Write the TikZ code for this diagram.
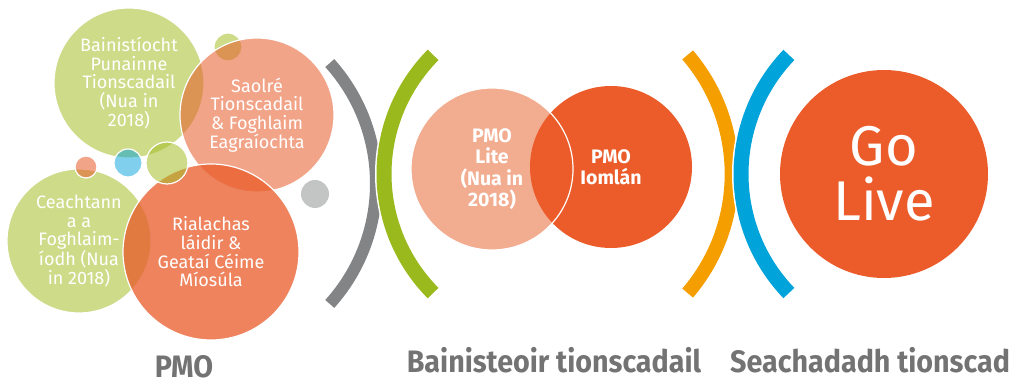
\documentclass[tikz,border=0pt]{standalone}
\usepackage{fontspec}
\setmainfont{Fira Sans}
\newfontfamily\labfont[FakeStretch=0.925]{Fira Sans}
\definecolor{cgreen}{RGB}{165,190,40}
\definecolor{csalmon}{RGB}{232,90,40}
\definecolor{cblue}{RGB}{0,160,220}
\definecolor{corange}{RGB}{235,92,42}
\definecolor{clite}{RGB}{242,172,143}
\definecolor{cgraydot}{RGB}{195,197,197}
\definecolor{bgray}{RGB}{131,132,134}
\definecolor{bgreen}{RGB}{154,185,28}
\definecolor{borange}{RGB}{244,158,0}
\definecolor{bblue}{RGB}{0,163,218}
\definecolor{labgray}{RGB}{115,115,115}
\begin{document}
\begin{tikzpicture}[x=1pt,y=1pt,
  bub/.style={circle, inner sep=0pt, draw=white, line width=1.2pt, fill opacity=#1},
  solidbub/.style={circle, inner sep=0pt},
  ctext/.style={text=white, align=center, font=\fontsize{18}{18.7}\selectfont},
  btext/.style={text=white, align=center, font=\bfseries\fontsize{19.5}{21.3}\selectfont},
  lab/.style={text=labgray, font=\labfont\bfseries\fontsize{31}{31}\selectfont, inner sep=0pt}]
\useasboundingbox (0,0) rectangle (1010,382);
% cluster
\node[bub=0.55, fill=cgreen, minimum size=150pt] (topgreen) at (129,299) {};
\node[bub=0.55, fill=cgreen, minimum size=28pt] (smallgreen) at (228,335) {};
\node[bub=0.55, fill=csalmon, minimum size=154pt] (saolre) at (257,267) {};
\node[bub=0.5, fill=cblue, minimum size=28pt] (bluedot) at (128,219) {};
\node[bub=0.55, fill=cgreen, minimum size=144pt] (ceach) at (79,141) {};
\node[bub=0.55, fill=csalmon, minimum size=22pt] (smallsalmon) at (86,215) {};
\node[bub=0.75, fill=csalmon, minimum size=176pt] (rial) at (211,130) {};
\node[bub=0.55, fill=cgreen, minimum size=42pt] (medgreen) at (167,219) {};
\node[solidbub, fill=cgraydot, minimum size=28pt] (graydot) at (315,188) {};
\node[ctext] (topgreenT) at (topgreen.center) {Bainistíocht\\Punainne\\Tionscadail\\(Nua in\\2018)};
\node[ctext] (saolreT) at (saolre.center) {Saolré\\Tionscadail\\\& Foghlaim\\Eagraíochta};
\node[ctext] (ceachT) at (ceach.center) {Ceachtann\\a a\\Foghlaim-\\íodh (Nua\\in 2018)};
\node[ctext] (rialT) at (rial.center) {Rialachas\\láidir \&\\Geataí Céime\\Míosúla};
% brackets
\draw[bgray, line width=12pt] ([shift={(42:180pt)}]196,198.5) arc[start angle=42, end angle=-42, radius=180pt];
\draw[white, line width=18pt] ([shift={(135.2:169pt)}]553,208) arc[start angle=135.2, end angle=224.8, radius=169pt];
\draw[bgreen, line width=15pt] ([shift={(135.2:169pt)}]553,208) arc[start angle=135.2, end angle=224.8, radius=169pt];
\draw[borange, line width=14pt] ([shift={(40.6:183pt)}]548.7,208) arc[start angle=40.6, end angle=-40.6, radius=183pt];
\draw[white, line width=18pt] ([shift={(136.2:172pt)}]913,208) arc[start angle=136.2, end angle=223.8, radius=172pt];
\draw[bblue, line width=15pt] ([shift={(136.2:172pt)}]913,208) arc[start angle=136.2, end angle=223.8, radius=172pt];
% middle
\node[solidbub, fill=clite, minimum size=162pt] (lite) at (492,213) {};
\node[solidbub, fill=corange, minimum size=162pt] (iomlan) at (611,215) {};
\draw[white, line width=1.2pt] (lite) circle[radius=81pt];
\node[btext] (liteT) at (lite.center) {PMO\\Lite\\(Nua in\\2018)};
\node[btext] (iomlanT) at (iomlan.center) {PMO\\Iomlán};
% go live
\node[solidbub, fill=corange, minimum size=208pt] (golive) at (884,208) {};
\node[text=white, align=center, font=\fontsize{56}{55}\selectfont] (goliveT) at (golive.center) {Go\\Live};
% labels
\node[lab, anchor=base] (pmoL) at (184,4) {PMO};
\node[lab, anchor=base] (bainL) at (554,9) {Bainisteoir tionscadail};
\node[lab, anchor=base west] (seachL) at (730,9) {Seachadadh tionscadail};
\end{tikzpicture}
\end{document}
